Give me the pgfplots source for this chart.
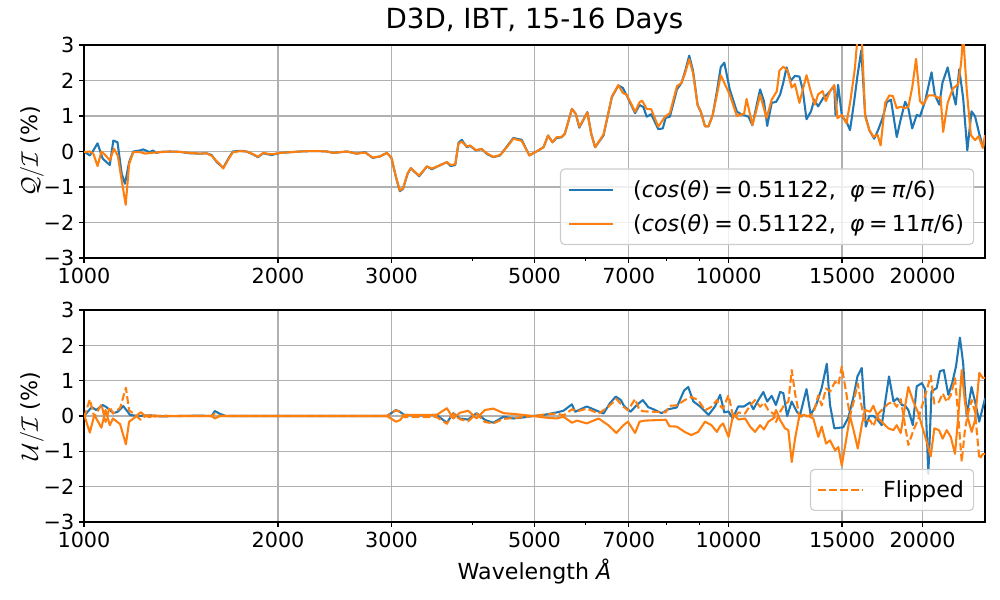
\documentclass[border=0pt]{standalone}
\usepackage{pgfplots}
\pgfplotsset{compat=1.18}
\usepackage{pgfplotstable}
\usepackage{fontspec}
\setmainfont{DejaVu Sans}
\definecolor{tabblue}{HTML}{1F77B4}
\definecolor{taborange}{HTML}{FF7F0E}
\definecolor{gridgray}{HTML}{B0B0B0}
\definecolor{leggray}{HTML}{CCCCCC}

% x = log10(wavelength / Angstrom)
\pgfplotstableread{
x y
3.000 0.00
3.009 -0.11
3.0145 0.03
3.021 0.23
3.029 -0.20
3.035 -0.30
3.040 -0.38
3.0455 0.31
3.052 0.26
3.0585 -0.63
3.0636 -0.91
3.070 -0.30
3.0765 0.00
3.087 0.03
3.092 0.06
3.097 0.02
3.102 -0.02
3.107 0.03
3.112 -0.04
3.118 -0.01
3.133 0.00
3.149 -0.01
3.164 -0.05
3.180 -0.06
3.190 -0.05
3.198 -0.10
3.206 -0.30
3.211 -0.38
3.216 -0.46
3.224 -0.20
3.231 0.00
3.242 0.02
3.252 0.00
3.262 -0.08
3.270 -0.16
3.278 -0.05
3.291 -0.10
3.304 -0.04
3.320 -0.02
3.335 0.00
3.350 0.01
3.366 0.01
3.377 0.00
3.387 -0.04
3.397 -0.02
3.408 0.00
3.423 -0.06
3.436 -0.02
3.448 -0.18
3.459 -0.14
3.470 -0.04
3.477 -0.18
3.484 -0.72
3.490 -1.12
3.495 -1.05
3.502 -0.63
3.507 -0.47
3.520 -0.70
3.532 -0.42
3.5395 -0.50
3.552 -0.39
3.563 -0.30
3.569 -0.41
3.576 -0.38
3.581 0.24
3.586 0.33
3.594 0.12
3.599 0.16
3.608 0.03
3.617 0.07
3.625 -0.07
3.635 -0.16
3.6455 -0.11
3.656 0.14
3.666 0.38
3.679 0.33
3.691 -0.11
3.702 0.00
3.713 0.12
3.720 0.45
3.727 0.26
3.733 0.38
3.741 0.40
3.746 0.50
3.757 1.20
3.763 1.06
3.7685 0.67
3.775 0.90
3.781 1.11
3.787 0.50
3.793 0.12
3.806 0.45
3.8135 1.08
3.819 1.53
3.829 1.86
3.836 1.79
3.842 1.58
3.855 1.08
3.862 1.31
3.868 1.25
3.873 0.98
3.880 1.05
3.891 0.63
3.898 0.65
3.9025 0.95
3.909 0.98
3.920 1.75
3.927 1.93
3.9325 2.25
3.939 2.70
3.945 2.27
3.952 1.31
3.957 1.12
3.9635 0.71
3.969 0.71
3.9755 1.03
3.982 1.70
3.988 2.38
3.9935 2.50
4.002 1.74
4.013 1.12
4.020 1.05
4.031 0.98
4.037 0.74
4.043 1.25
4.049 1.75
4.055 1.42
4.060 0.72
4.067 1.37
4.074 1.40
4.080 1.60
4.085 1.94
4.090 2.37
4.0965 1.99
4.103 2.13
4.110 2.11
4.115 1.75
4.121 0.91
4.128 1.13
4.133 1.46
4.139 1.27
4.147 1.51
4.1525 1.60
4.1575 1.70
4.164 1.85
4.166 1.03
4.170 1.88
4.176 0.99
4.183 0.84
4.1885 0.60
4.195 1.42
4.200 2.13
4.206 2.85
4.212 1.03
4.2185 0.60
4.226 0.36
4.232 0.60
4.239 0.94
4.2455 1.39
4.252 1.46
4.261 0.41
4.267 0.89
4.274 1.40
4.279 1.22
4.285 0.65
4.292 1.03
4.297 0.99
4.305 1.42
4.315 2.23
4.320 1.60
4.327 1.32
4.332 1.94
4.340 2.37
4.346 1.80
4.3525 1.32
4.358 2.32
4.364 1.51
4.3705 0.03
4.377 1.13
4.3825 0.99
4.389 0.50
4.395 0.12
4.398 0.30
}\Qblue

\pgfplotstableread{
x y
3.000 -0.02
3.009 0.00
3.0145 -0.06
3.021 -0.41
3.027 0.00
3.034 -0.12
3.040 -0.25
3.0465 0.08
3.0525 -0.12
3.0585 -0.82
3.0647 -1.50
3.070 -0.35
3.0765 -0.02
3.087 -0.02
3.095 -0.06
3.102 -0.04
3.110 -0.03
3.118 -0.02
3.133 0.00
3.149 -0.01
3.164 -0.04
3.180 -0.06
3.190 -0.05
3.198 -0.12
3.206 -0.28
3.211 -0.36
3.216 -0.48
3.224 -0.22
3.231 -0.02
3.242 0.01
3.252 0.00
3.262 -0.07
3.270 -0.15
3.278 -0.04
3.291 -0.08
3.304 -0.04
3.320 -0.02
3.335 0.00
3.350 0.01
3.366 0.01
3.377 0.00
3.387 -0.04
3.397 -0.02
3.408 0.00
3.423 -0.06
3.436 -0.03
3.448 -0.17
3.459 -0.14
3.470 -0.04
3.477 -0.17
3.484 -0.72
3.490 -1.10
3.495 -1.03
3.502 -0.62
3.507 -0.47
3.520 -0.68
3.532 -0.42
3.5395 -0.48
3.552 -0.39
3.563 -0.30
3.569 -0.38
3.576 -0.36
3.581 0.22
3.586 0.28
3.594 0.14
3.599 0.17
3.608 0.04
3.617 0.07
3.625 -0.05
3.635 -0.15
3.6455 -0.10
3.656 0.12
3.666 0.36
3.679 0.30
3.691 -0.11
3.702 0.00
3.713 0.12
3.720 0.45
3.727 0.26
3.733 0.40
3.741 0.41
3.746 0.50
3.757 1.20
3.763 1.06
3.7685 0.70
3.775 0.90
3.781 1.10
3.787 0.50
3.793 0.12
3.806 0.48
3.8135 1.08
3.819 1.55
3.829 1.87
3.836 1.65
3.842 1.60
3.855 1.12
3.862 1.39
3.866 1.43
3.873 1.20
3.880 1.19
3.891 0.70
3.9015 0.98
3.909 1.08
3.920 1.84
3.927 1.93
3.9325 2.20
3.939 2.60
3.945 2.20
3.952 1.31
3.957 1.12
3.9635 0.71
3.969 0.71
3.9755 1.03
3.982 1.60
3.988 2.15
3.9935 1.93
4.002 1.60
4.013 1.00
4.020 1.05
4.024 1.05
4.028 1.48
4.037 0.75
4.043 1.15
4.049 1.60
4.059 0.94
4.067 1.46
4.075 1.70
4.079 2.28
4.085 2.39
4.0915 2.28
4.098 1.80
4.103 1.90
4.110 1.37
4.121 2.15
4.128 1.66
4.134 1.32
4.139 1.61
4.146 1.70
4.151 1.42
4.1575 1.70
4.164 1.87
4.169 0.94
4.176 1.03
4.183 0.79
4.189 1.42
4.196 2.33
4.2005 3.30
4.2065 3.30
4.212 0.99
4.2185 0.60
4.225 0.41
4.231 0.48
4.236 0.17
4.243 1.37
4.2495 1.58
4.255 1.56
4.261 1.22
4.267 1.26
4.274 1.22
4.279 1.26
4.285 1.80
4.291 2.61
4.297 1.42
4.302 1.32
4.310 1.58
4.318 1.58
4.3255 1.51
4.329 1.54
4.333 0.55
4.340 1.37
4.348 1.77
4.3565 1.90
4.361 2.52
4.364 3.30
4.3695 1.75
4.376 0.46
4.3825 0.32
4.388 0.43
4.3945 0.10
4.398 0.46
}\Qorange

\pgfplotstableread{
x y
3.000 0.00
3.012 0.25
3.019 0.17
3.029 0.31
3.035 0.25
3.0455 0.08
3.052 0.12
3.061 0.28
3.0715 0.03
3.083 0.00
3.102 0.02
3.118 -0.01
3.149 0.00
3.180 0.01
3.198 0.00
3.203 0.14
3.211 0.06
3.220 0.00
3.260 0.00
3.300 0.00
3.350 0.00
3.400 0.00
3.440 0.00
3.470 0.00
3.484 0.17
3.490 0.12
3.497 0.03
3.520 0.02
3.547 0.03
3.563 -0.19
3.573 0.08
3.583 -0.07
3.596 -0.10
3.609 0.08
3.622 -0.11
3.635 -0.19
3.651 -0.02
3.666 -0.07
3.682 -0.04
3.697 0.00
3.713 0.03
3.733 0.10
3.744 0.15
3.757 0.33
3.762 0.12
3.780 0.27
3.806 0.07
3.816 0.36
3.825 0.55
3.833 0.45
3.838 0.28
3.848 0.12
3.8575 0.31
3.867 0.45
3.8755 0.25
3.886 0.17
3.896 0.08
3.9065 0.19
3.9195 0.24
3.931 0.72
3.9375 0.82
3.9455 0.41
3.956 0.27
3.969 0.03
3.979 0.27
3.987 0.60
3.9935 0.10
4.000 0.13
4.0065 -0.07
4.015 0.27
4.024 0.27
4.033 0.38
4.0385 0.19
4.046 0.44
4.054 0.68
4.060 0.41
4.067 0.57
4.0735 0.31
4.080 0.68
4.085 0.65
4.091 0.00
4.098 0.41
4.106 0.12
4.111 0.03
4.121 0.76
4.1275 0.03
4.136 0.31
4.1445 0.79
4.1525 1.48
4.1575 0.31
4.1642 -0.35
4.178 -0.32
4.186 -0.04
4.194 0.55
4.200 1.12
4.2067 1.36
4.213 -0.30
4.2185 0.00
4.225 0.00
4.231 -0.10
4.2377 -0.26
4.249 1.12
4.256 0.41
4.262 0.50
4.269 0.31
4.274 0.29
4.279 0.17
4.286 -0.26
4.292 0.84
4.300 0.93
4.305 0.76
4.310 -1.64
4.315 0.70
4.323 0.79
4.328 1.27
4.334 1.30
4.341 0.60
4.347 0.93
4.353 1.41
4.359 2.22
4.364 1.50
4.3695 0.00
4.377 0.82
4.3825 0.41
4.389 -0.16
4.398 0.50
}\Ublue

\pgfplotstableread{
x y
3.000 0.05
3.009 -0.47
3.016 0.03
3.027 -0.33
3.0335 0.17
3.040 -0.26
3.045 -0.07
3.056 -0.23
3.065 -0.80
3.070 -0.16
3.079 -0.04
3.088 0.11
3.095 0.00
3.102 -0.03
3.110 0.02
3.118 -0.01
3.149 0.00
3.198 0.00
3.203 -0.07
3.211 0.00
3.300 0.00
3.400 0.00
3.470 0.00
3.484 -0.16
3.490 -0.12
3.497 0.03
3.547 0.03
3.563 0.22
3.573 -0.07
3.583 0.09
3.596 0.15
3.609 -0.07
3.622 0.17
3.635 0.21
3.651 0.08
3.666 0.06
3.682 0.03
3.697 0.00
3.713 -0.04
3.733 -0.07
3.744 -0.02
3.757 -0.19
3.765 -0.13
3.780 -0.21
3.7985 -0.07
3.8135 -0.26
3.826 -0.48
3.837 -0.26
3.844 -0.16
3.855 -0.48
3.862 -0.16
3.870 -0.13
3.899 -0.11
3.9025 -0.10
3.9085 -0.29
3.9195 -0.30
3.932 -0.45
3.942 -0.54
3.953 -0.45
3.9635 -0.16
3.9735 -0.26
3.982 -0.45
3.9865 -0.30
3.9915 -0.21
4.000 -0.59
4.0075 0.05
4.0155 -0.10
4.0257 -0.07
4.0335 -0.30
4.0412 -0.45
4.0489 -0.26
4.0551 -0.38
4.0618 -0.16
4.0695 -0.07
4.0737 0.17
4.0799 -0.11
4.0877 -0.35
4.0928 -0.40
4.0981 -1.30
4.1032 -0.64
4.1099 0.00
4.1161 0.03
4.1238 0.00
4.1316 -0.07
4.1393 -0.59
4.1446 -0.30
4.1513 -0.78
4.1575 -0.69
4.1653 -0.97
4.1704 -0.88
4.1757 -1.40
4.1823 -0.69
4.1885 0.00
4.1947 -0.45
4.2005 -0.92
4.2067 -0.26
4.2118 0.17
4.2196 0.12
4.2247 0.29
4.2324 -0.07
4.2402 -0.21
4.2480 -0.35
4.2557 -0.40
4.2610 -0.26
4.2672 -0.48
4.2739 0.27
4.2790 0.82
4.2867 0.41
4.2945 0.08
4.3013 -0.35
4.3075 -0.73
4.3137 -1.14
4.3193 -0.35
4.3266 -0.40
4.3323 -0.64
4.3385 -0.40
4.3448 -0.59
4.3514 -1.07
4.3566 0.03
4.3618 1.30
4.3670 0.36
4.3721 -0.11
4.3773 -0.45
4.3825 -0.11
4.3891 1.22
4.3944 1.08
4.3980 1.08
}\Uorange

\newcommand{\eqsp}{\hspace{0.2em}=\hspace{0.2em}}

\pgfplotsset{
  myaxis/.style={
    scale only axis, width=651.15pt,
    xmin=3, xmax=4.39794, ymin=-3, ymax=3,
    xtick={3,3.30103,3.47712,3.69897,3.84510,4,4.17609,4.30103},
    xticklabels={1000,2000,3000,5000,7000,10000,15000,20000},
    minor xtick={3.60206,3.77815,3.90309,3.95424},
    ytick={-3,-2,-1,0,1,2,3},
    yticklabels={−3,−2,−1,0,1,2,3},
    grid=major,
    major grid style={gridgray, line width=0.8pt},
    axis line style={line width=0.8pt},
    tick align=outside,
    tick pos=left,
    major tick length=3.5pt,
    minor tick length=2pt,
    tick style={black, line width=0.8pt},
    minor tick style={black, line width=0.6pt},
    ticklabel style={font=\fontsize{15}{18}\selectfont},
    label style={font=\fontsize{16}{19}\selectfont},
    legend style={font=\fontsize{16}{19}\selectfont, draw=leggray, line width=0.8pt,
      rounded corners=3pt, fill=white, fill opacity=0.8, text opacity=1, draw opacity=1,
      anchor=south east, inner xsep=5pt, inner ysep=6pt, row sep=7pt,
      /tikz/every odd column/.append style={column sep=12pt}},
    legend cell align=left,
    legend image code/.code={\draw[##1] (0pt,0pt) -- (32pt,0pt);},
    ylabel style={at={(axis description cs:-0.0577,0.5)}, anchor=center},
  },
  bl/.style={tabblue, line width=1.5pt, line join=round},
  or/.style={taborange, line width=1.5pt, line join=round},
}

\begin{document}
\begin{tikzpicture}
\path[use as bounding box] (0,0) rectangle (722.7pt,433.62pt);

\begin{axis}[myaxis, at={(60.71pt,247.16pt)}, anchor=south west, height=153.94pt,
  title={D3D, IBT, 15-16 Days},
  title style={font=\fontsize{20}{24}\selectfont, at={(axis description cs:0.5,1)}, anchor=base, yshift=6pt},
  ylabel={$\mathcal{Q}/\mathcal{I}$ (\%)},
  legend style={at={(0.988,0.061)}}]
\addplot[bl] table[x=x,y=y] {\Qblue};
\addlegendentry{(\textit{cos}(\textit{θ})\eqsp0.51122,\ \ \textit{φ}\eqsp\textit{π}/6)}
\addplot[or] table[x=x,y=y] {\Qorange};
\addlegendentry{(\textit{cos}(\textit{θ})\eqsp0.51122,\ \ \textit{φ}\eqsp11\textit{π}/6)}
\end{axis}

\begin{axis}[myaxis, at={(60.71pt,56.37pt)}, anchor=south west, height=153.21pt,
  ylabel={$\mathcal{U}/\mathcal{I}$ (\%)},
  xlabel={Wavelength \textit{Å}},
  xlabel style={at={(axis description cs:0.5,-0.235)}, anchor=center},
  legend style={at={(0.988,0.052)}}]
\addplot[bl, forget plot] table[x=x,y=y] {\Ublue};
\addplot[or, forget plot] table[x=x,y=y] {\Uorange};
\addplot[or, dash pattern=on 5.55pt off 2.4pt] table[x=x, y expr=-\thisrow{y}] {\Uorange};
\addlegendentry{Flipped}
\end{axis}
\end{tikzpicture}
\end{document}
